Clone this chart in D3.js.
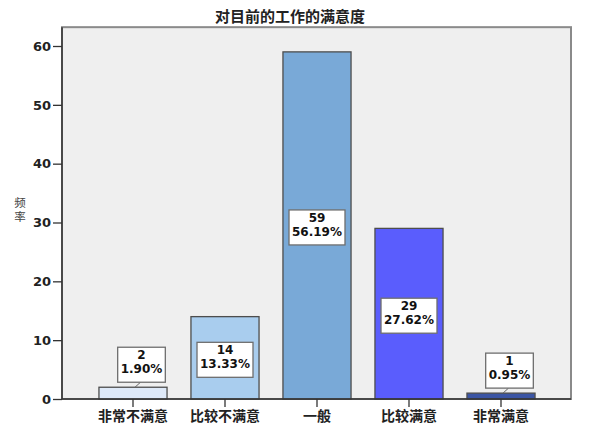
<!DOCTYPE html>
<html><head><meta charset="utf-8">
<script src="https://cdn.jsdelivr.net/npm/d3@7"></script>
<style>body{margin:0;background:#fff}</style>
</head><body>
<svg id="c" width="611" height="430"></svg>
<script>
const title = "对目前的工作的满意度";
const yLabel = "频率";
const categories = ["非常不满意","比较不满意","一般","比较满意","非常满意"];
const counts = [2,14,59,29,1];
const percents = ["1.90%","13.33%","56.19%","27.62%","0.95%"];
const barColors = ["#dee9f8","#a9cdee","#79a9d7","#5a5dfd","#3b55a4"];
const yTicks = [0,10,20,30,40,50,60];

const svg = d3.select("#c");
const plotLeft = 62, plotRight = 571, plotBottom = 399;
const y = d3.scaleLinear().domain([0,60]).range([plotBottom,46]);
const plotTop = y(63.2);
const x = d3.scaleBand().domain(categories).range([87,547]).paddingInner(0.26).paddingOuter(0.13);

// plot background
svg.append("rect").attr("x",plotLeft).attr("y",plotTop).attr("width",plotRight-plotLeft).attr("height",plotBottom-plotTop)
  .attr("fill","#efefef").attr("stroke","#8a8a8a").attr("stroke-width",2);

// bars
svg.selectAll("rect.bar").data(counts).enter().append("rect").attr("class","bar")
  .attr("x",(d,i)=>x(categories[i])).attr("width",x.bandwidth())
  .attr("y",d=>y(d)).attr("height",d=>plotBottom-y(d))
  .attr("fill",(d,i)=>barColors[i]).attr("stroke","#4d4d4d").attr("stroke-width",1.3);

// axes lines
svg.append("line").attr("x1",plotLeft).attr("x2",plotLeft).attr("y1",plotTop).attr("y2",plotBottom).attr("stroke","#333").attr("stroke-width",1.5);
svg.append("line").attr("x1",plotLeft).attr("x2",plotRight).attr("y1",plotBottom).attr("y2",plotBottom).attr("stroke","#333").attr("stroke-width",1.5);

// y axis
const ya = svg.append("g").attr("transform",`translate(${plotLeft},0)`)
  .call(d3.axisLeft(y).tickValues(yTicks).tickSize(9).tickPadding(2));
ya.select(".domain").remove();
ya.selectAll("line").attr("stroke","#333").attr("stroke-width",1.3);
ya.selectAll("text").attr("font-family","DejaVu Sans").attr("font-size",13).attr("font-weight","bold").attr("fill","#222");

// x axis
const xa = svg.append("g").attr("transform",`translate(0,${plotBottom})`)
  .call(d3.axisBottom(x).tickSize(8).tickPadding(4));
xa.select(".domain").remove();
xa.selectAll("line").attr("stroke","#333").attr("stroke-width",1.3);
xa.selectAll("text").attr("font-family","Noto Sans CJK SC").attr("font-size",14).attr("font-weight","bold").attr("fill","#222");

// title
svg.append("text").attr("x",290).attr("y",22).attr("text-anchor","middle")
  .attr("font-family","Noto Sans CJK SC").attr("font-size",15).attr("font-weight","bold").attr("fill","#222").text(title);

// y label stacked vertically (upright characters)
svg.append("text").attr("x",20).attr("y",197)
  .attr("font-family","Noto Sans CJK SC").attr("font-size",11.5).attr("fill","#444")
  .attr("writing-mode","vertical-rl").style("text-orientation","upright").style("letter-spacing","2.5px")
  .text(yLabel);

// data labels
counts.forEach((d,i)=>{
  const cx = x(categories[i]) + x.bandwidth()/2;
  const barTop = y(d);
  const g = svg.append("g");
  const t = g.append("text").attr("font-family","DejaVu Sans").attr("font-size",12).attr("font-weight","bold")
    .attr("fill","#111").attr("text-anchor","middle");
  t.append("tspan").attr("x",0).attr("y",12).text(d);
  t.append("tspan").attr("x",0).attr("y",26).text(percents[i]);
  const w = Math.max(t.node().getBBox().width + 6, 44);
  const h = 35;
  let bx, by;
  const inside = plotBottom - barTop > 50;
  if (inside) {
    bx = cx; by = (barTop+plotBottom)/2 + 2 - h/2;
  } else {
    bx = cx + 8.5; by = barTop - 5 - h;
    svg.insert("line","g").attr("x1",bx-1).attr("y1",by+h).attr("x2",cx+2).attr("y2",barTop)
      .attr("stroke","#666").attr("stroke-width",1);
  }
  g.attr("transform",`translate(${bx},${by})`);
  g.insert("rect","text").attr("x",-w/2).attr("y",0).attr("width",w).attr("height",h)
    .attr("fill","#fff").attr("stroke","#6e6e6e").attr("stroke-width",1.3);
});
</script>
</body></html>
